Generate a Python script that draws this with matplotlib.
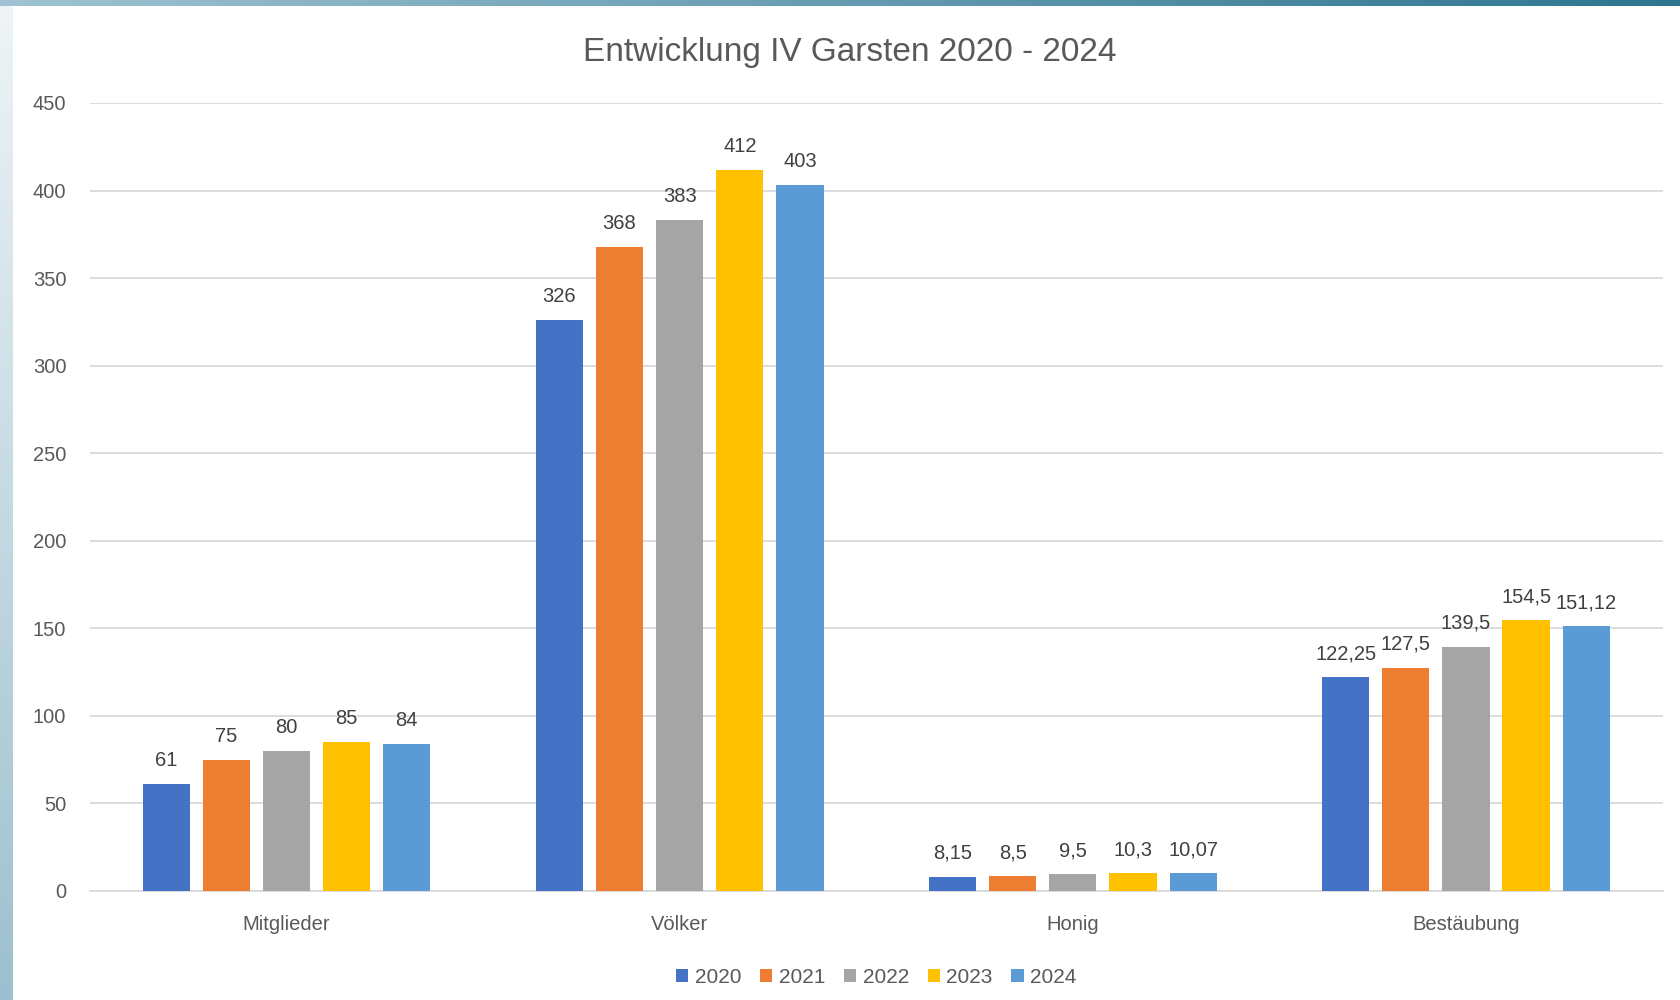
import matplotlib
matplotlib.use("Agg")
import matplotlib.pyplot as plt
import numpy as np

categories = ["Mitglieder", "Völker", "Honig", "Bestäubung"]
years = ["2020", "2021", "2022", "2023", "2024"]
v2020 = [61, 326, 8.15, 122.25]
v2021 = [75, 368, 8.5, 127.5]
v2022 = [80, 383, 9.5, 139.5]
v2023 = [85, 412, 10.3, 154.5]
v2024 = [84, 403, 10.07, 151.12]
labels2020 = ["61", "326", "8,15", "122,25"]
labels2021 = ["75", "368", "8,5", "127,5"]
labels2022 = ["80", "383", "9,5", "139,5"]
labels2023 = ["85", "412", "10,3", "154,5"]
labels2024 = ["84", "403", "10,07", "151,12"]
colors = ["#4472C4", "#ED7D31", "#A5A5A5", "#FFC000", "#5B9BD5"]

series = [v2020, v2021, v2022, v2023, v2024]
series_labels = [labels2020, labels2021, labels2022, labels2023, labels2024]

plt.rcParams['font.family'] = ['Liberation Sans', 'DejaVu Sans']
grey = "#595959"

fig = plt.figure(figsize=(16.81, 10), dpi=100)
fig.patch.set_facecolor("white")

# blue frame of the screenshot
bg = fig.add_axes([0, 0, 1, 1], zorder=-10)
bg.axis("off")
grad = np.linspace(0, 1, 256).reshape(1, -1)
cm_top = matplotlib.colors.LinearSegmentedColormap.from_list("t", ["#9fc3d2", "#2e7590"])
cm_left = matplotlib.colors.LinearSegmentedColormap.from_list("l", ["#eef4f7", "#9cc0cf"])
bg.imshow(grad, extent=[0, 1, 0.994, 1], aspect="auto", cmap=cm_top)
bg.imshow(grad.T, extent=[0, 0.0075, 0, 0.994], aspect="auto", cmap=cm_left)
bg.set_xlim(0, 1)
bg.set_ylim(0, 1)

ax = fig.add_axes([0.0535, 0.109, 0.9355, 0.788])
x = np.arange(len(categories))
step = 0.153
width = 0.12
for i, (vals, labs) in enumerate(zip(series, series_labels)):
    pos = x + (i - 2) * step
    ax.bar(pos, vals, width=width, color=colors[i], label=years[i], zorder=3)
    for px, v, t in zip(pos, vals, labs):
        ax.annotate(t, (px, v), xytext=(0, 10), textcoords="offset points",
                    ha="center", va="bottom", fontsize=14.5, color="#404040")

ax.set_ylim(0, 450)
ax.set_xlim(-0.5, 3.5)
ax.set_yticks(np.arange(0, 451, 50))
ax.set_xticks(x)
ax.set_xticklabels(categories)
ax.yaxis.grid(True, color="#D9D9D9", linewidth=1.3, zorder=0)
for s in ["top", "right", "left"]:
    ax.spines[s].set_visible(False)
ax.spines["bottom"].set_color("#D9D9D9")
ax.spines["bottom"].set_linewidth(1.3)
ax.tick_params(axis="both", length=0, labelsize=14.5, colors=grey)
ax.tick_params(axis="y", pad=17)
ax.tick_params(axis="x", pad=17)

fig.text(0.5055, 0.947, "Entwicklung IV Garsten 2020 - 2024", ha="center", va="center",
         fontsize=24, color=grey)

ax.legend(loc="center", bbox_to_anchor=(0.5, -0.11), ncol=5, frameon=False,
          fontsize=15, handlelength=0.6, handleheight=0.6, handletextpad=0.3,
          columnspacing=0.9, labelcolor=grey)

fig.savefig("out.png", dpi=100)
